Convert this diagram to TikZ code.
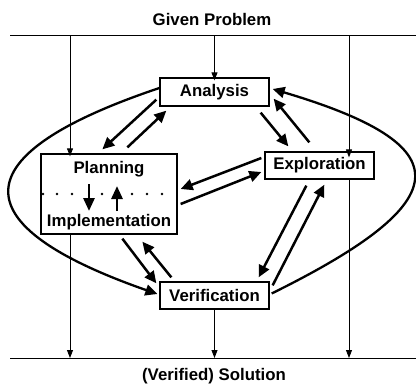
\documentclass[tikz,border=0pt]{standalone}
\usepackage{fontspec}
\setmainfont{Liberation Sans}
\usetikzlibrary{arrows.meta,calc}
\begin{document}
\begin{tikzpicture}[x=1pt,y=-1pt,
  txt/.style={font=\fontsize{16.8}{18}\selectfont\bfseries,inner sep=0pt},
  box/.style={draw,line width=1.3pt,inner sep=0pt,txt},
  thinarr/.style={line width=0.9pt,-{Triangle[length=8pt,width=6pt]}},
  thickarr/.style={line width=2.5pt,-{Triangle[length=12pt,width=11pt]}},
  smallarr/.style={line width=2.8pt,-{Triangle[length=13pt,width=11pt]}},
  rule/.style={line width=0.9pt}]
\useasboundingbox (0,0) rectangle (416,384);
% titles
\node[txt] (given) at (212,19) {Given Problem};
\node[txt] (sol) at (214,376) {(Verified) Solution};
% top and bottom rules
\coordinate (tl) at (10,35);
\coordinate (tr) at (416,35);
\coordinate (bl) at (10,358);
\coordinate (br) at (416,358);
\draw[rule] (tl) -- (tr);
\draw[rule] (bl) -- (br);
% boxes
\node[box,minimum width=109pt,minimum height=28pt] (ana) at (214.5,92) {Analysis};
\node[draw,line width=1.3pt,minimum width=136pt,minimum height=80pt,inner sep=0pt] (plan) at (109,194) {};
\node[txt] (plantxt) at (109,169) {Planning};
\node[txt] (impltxt) at (109,222) {Implementation};
\node[box,minimum width=109pt,minimum height=27pt] (expl) at (319.5,165.5) {Exploration};
\node[box,minimum width=109pt,minimum height=27pt] (ver) at (214.5,295.5) {Verification};
% dotted separator
\foreach \x in {43,57,72,102,132,147,162} \fill (\x,194) circle (1.4);
\draw[smallarr] (89,184) -- (89,211);
\draw[smallarr] (117,211) -- (117,186);
% vertical flow lines
\coordinate (xl) at (70,35);
\coordinate (xm) at (214.5,35);
\coordinate (xr) at (349,35);
\coordinate (yl) at (70,358);
\coordinate (ym) at (214.5,358);
\coordinate (yr) at (349,358);
\draw[thinarr] (xl) -- ([yshift=-3pt]xl |- plan.north);
\draw[thinarr] (xm) -- ([yshift=-3pt]ana.north);
\draw[thinarr] (xr) -- ([yshift=-6pt]xr |- expl.north);
\draw[thinarr] (yl |- plan.south) -- (yl);
\draw[thinarr] (ver.south) -- (ym);
\draw[thinarr] (yr |- expl.south) -- (yr);
% big loops
\draw[thickarr,line width=2.3pt] ([shift={(0,-4)}]ana.west) .. controls (-40,155) and (-40,225) .. ([shift={(-2,-1.5)}]ver.west);
\draw[thickarr,line width=2.3pt] ([shift={(2,-2)}]ver.east) .. controls (461,200) and (461,145) .. ([shift={(3,-3)}]ana.east);
% paired arrows
\draw[thickarr] ([shift={(-3,-7)}]ana.south west) -- ([shift={(62,-4)}]plan.north west);
\draw[thickarr] ([shift={(87,-6)}]plan.north west) -- ([shift={(7,4)}]ana.south west);
\draw[thickarr] ([shift={(-9,6)}]ana.south east) -- ([shift={(24,-5)}]expl.north west);
\draw[thickarr] ([shift={(45,-9)}]expl.north west) -- ([shift={(4,-8)}]ana.south east);
\draw[thickarr] ([shift={(-3,-7.5)}]expl.west) -- ([shift={(3,-5)}]plan.east);
\draw[thickarr] ([shift={(3,10)}]plan.east) -- ([shift={(-3,6.5)}]expl.west);
\draw[thickarr] ([shift={(82,4)}]plan.south west) -- ([shift={(-3,2)}]ver.north west);
\draw[thickarr] ([shift={(12,-4)}]ver.north west) -- ([shift={(102,7)}]plan.south west);
\draw[thickarr] ([shift={(42,6)}]expl.south west) -- ([shift={(-11,-4)}]ver.north east);
\draw[thickarr] ([shift={(3,4)}]ver.north east) -- ([shift={(60,5)}]expl.south west);
\end{tikzpicture}
\end{document}
